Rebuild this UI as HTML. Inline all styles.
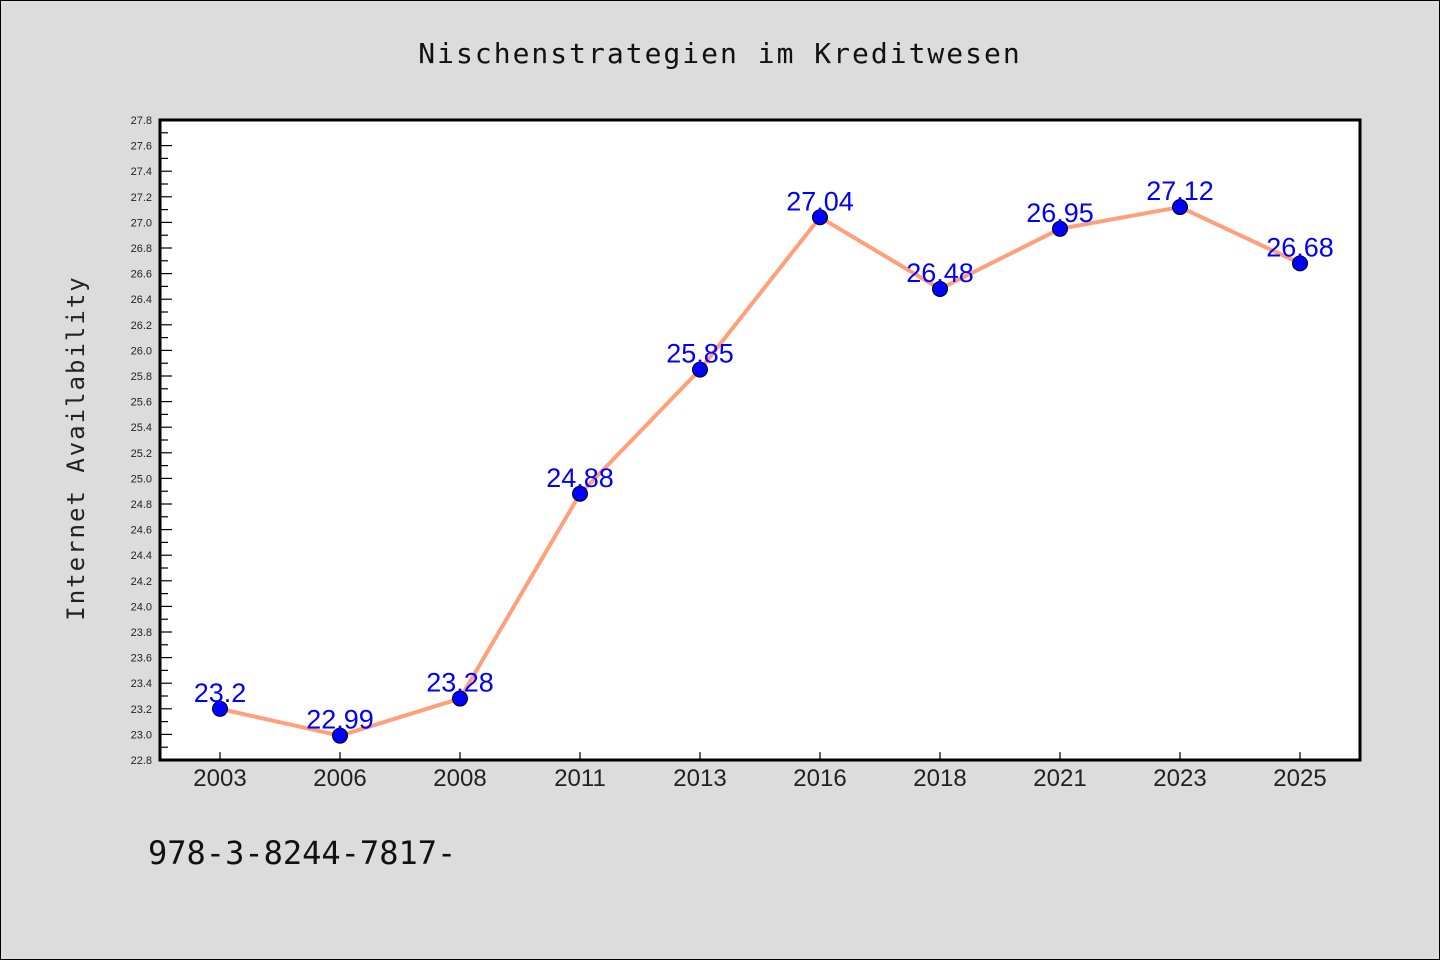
<!DOCTYPE html>
<html><head><meta charset="utf-8"><style>
body{margin:0;background:#dcdcdc;}
svg{display:block;font-family:"Liberation Sans","DejaVu Sans",sans-serif;}
</style></head><body>
<svg id="chart" width="1440" height="960">
<rect x="0.5" y="0.5" width="1439" height="959" fill="#dcdcdc" stroke="#000"/>
<text x="720" y="63" text-anchor="middle" font-size="28" letter-spacing="2" fill="#111" font-family="DejaVu Sans Mono, monospace">Nischenstrategien im Kreditwesen</text>
<rect x="160" y="120" width="1200" height="640" fill="#fff"/>
<text transform="translate(84,448) rotate(-90)" text-anchor="middle" font-size="24" letter-spacing="2" fill="#222" font-family="DejaVu Sans Mono, monospace">Internet Availability</text>
<text x="148" y="864" font-size="32" fill="#111" font-family="DejaVu Sans Mono, monospace">978-3-8244-7817-</text>
<g id="axes"></g>
<g id="marks"></g>
<rect x="160" y="120" width="1200" height="640" fill="none" stroke="#000" stroke-width="3"/>
</svg>
<script>
const categories=["2003","2006","2008","2011","2013","2016","2018","2021","2023","2025"];
const values=[23.2,22.99,23.28,24.88,25.85,27.04,26.48,26.95,27.12,26.68];
const valueLabels=["23.2","22.99","23.28","24.88","25.85","27.04","26.48","26.95","27.12","26.68"];
const yMin=22.8,yMax=27.8;
const L=160,R=1360,T=120,B=760;
const NS="http://www.w3.org/2000/svg";
const x=i=>L+(R-L)/categories.length*(i+0.5);
const y=v=>B-(v-yMin)/(yMax-yMin)*(B-T);
function mk(t,a,p){const e=document.createElementNS(NS,t);for(const k in a)e.setAttribute(k,a[k]);p.appendChild(e);return e;}
const ax=document.getElementById('axes'),mg=document.getElementById('marks');
for(let k=0;k<=50;k++){const v=yMin+k*0.1;const yy=y(v);const major=k%2===0;
 const t=mk('line',{x1:L,x2:L+(major?12:8),y1:yy,y2:yy,stroke:'#000','stroke-width':1.2},ax);
 
 
 if(major){const l=mk('text',{x:L-8,y:yy+4,'text-anchor':'end','font-size':11,fill:'#222'},ax);l.textContent=v.toFixed(1);
 
 }}
categories.forEach((c,i)=>{const xx=x(i);
 const t=mk('line',{x1:xx,x2:xx,y1:B,y2:B-8,stroke:'#000','stroke-width':1.2},ax);
 
 
 const l=mk('text',{x:xx,y:B+26,'text-anchor':'middle','font-size':24,fill:'#222'},ax);l.textContent=c;
 
 });
const pl=mk('polyline',{points:values.map((v,i)=>x(i)+','+y(v)).join(' '),fill:'none',stroke:'#ffa07a','stroke-width':4,'stroke-linejoin':'round'},mg);


values.forEach((v,i)=>{
 const c=mk('circle',{cx:x(i),cy:y(v),r:7.5,fill:'#0000ff',stroke:'#000','stroke-width':1},mg);
 
 
 const l=mk('text',{x:x(i),y:y(v)-7,'text-anchor':'middle','font-size':27,fill:'#0000ff'},mg);l.textContent=valueLabels[i];
 
 });
</script>
</body></html>
